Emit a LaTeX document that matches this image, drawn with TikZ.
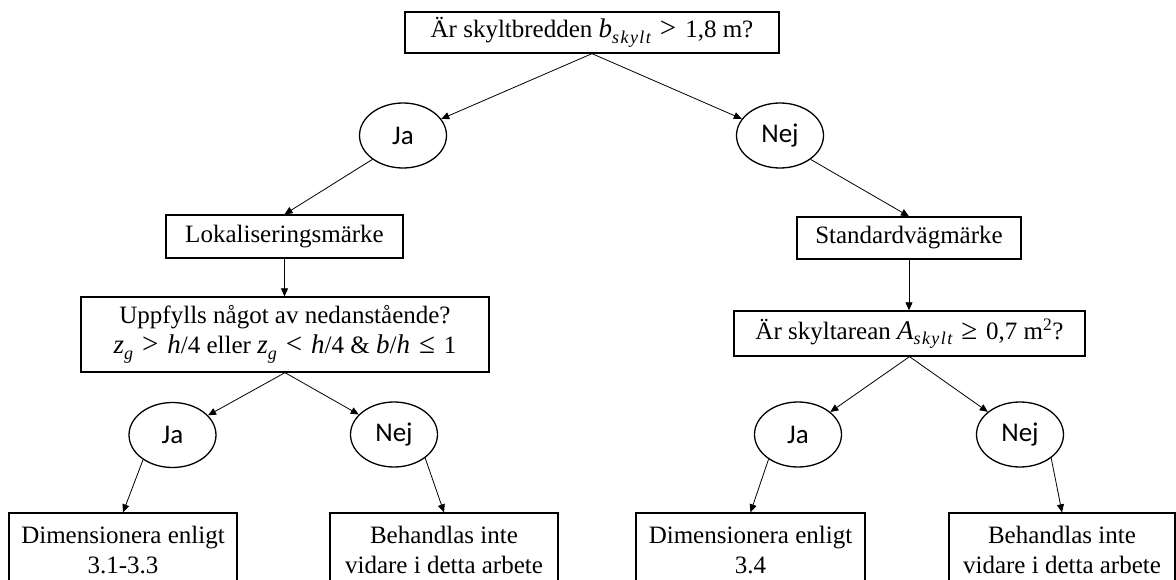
\documentclass[tikz,border=0pt]{standalone}
\usepackage{fontspec}
\setmainfont{Liberation Serif}
\newfontfamily\answerfont{Carlito}
\newfontfamily\idxfont[LetterSpace=8]{Liberation Serif}
\newfontfamily\varfont[LetterSpace=4]{Liberation Serif}
\usetikzlibrary{shapes.geometric,arrows.meta}

% italic variable, slightly larger than the running text
\newcommand\vv[1]{{\varfont\fontsize{27}{30}\selectfont\itshape #1}}
% italic variable with a lowered italic index
\newcommand\var[2]{\vv{#1}\raisebox{-5.5pt}{\idxfont\fontsize{18}{18}\selectfont\itshape #2}}
% relation sign, a little larger, with extra room on both sides
\newcommand\rel[1]{\hspace{9pt}{\fontsize{29}{30}\selectfont #1}\hspace{9pt}}

\begin{document}
\begin{tikzpicture}[x=1pt,y=-1pt,
  box/.style={draw,line width=1.3pt,rectangle,inner sep=0pt,align=center,
    font=\fontsize{25}{30}\selectfont},
  answer/.style={draw,line width=1.3pt,ellipse,minimum width=87pt,
    minimum height=65pt,inner sep=0pt,font=\answerfont\fontsize{27}{30}\selectfont},
  link/.style={line width=0.8pt,-{Triangle[length=8pt,width=7pt]}}]
\fill[white] (0,0) rectangle (1176,580);
\clip (0,0) rectangle (1176,580);

% question at the top
\node[box,minimum width=374pt,minimum height=41pt] (top) at (592,32.5)
  {Är skyltbredden \var{b}{skylt}\rel{>}1,8 m?};

% first answers
\node[answer] (ja1) at (403,135.5) {Ja};
\node[answer] (nej1) at (780,135.5) {Nej};

% sign types
\node[box,minimum width=237pt,minimum height=43pt] (lok) at (284.5,236.5) {Lokaliseringsmärke};
\node[box,minimum width=224pt,minimum height=42pt] (std) at (909,238) {Standardvägmärke};

% second questions
\node[box,minimum width=408pt,minimum height=75pt] (upp) at (285,334.5)
  {Uppfylls något av nedanstående?\\
   \var{z}{g}\rel{>}\vv{h}/4 eller
   \var{z}{g}\rel{<}\vv{h}/4 \& \vv{b}/\vv{h}\rel{≤}1};
\node[box,minimum width=351pt,minimum height=45pt] (ar) at (909.5,333.5)
  {Är skyltarean \var{A}{skylt}\rel{≥}0,7 m\textsuperscript{2}?};

% second answers
\node[answer] (ja2) at (172.5,435) {Ja};
\node[answer] (nej2) at (394,434.5) {Nej};
\node[answer] (ja3) at (798,434.5) {Ja};
\node[answer] (nej3) at (1020,434.5) {Nej};

% outcomes (their lower edges fall below the frame)
\node[box,minimum width=228pt,minimum height=74pt] (b1) at (123,550)
  {Dimensionera enligt\\3.1-3.3};
\node[box,minimum width=228pt,minimum height=74pt] (b2) at (444,550)
  {Behandlas inte\\vidare i detta arbete};
\node[box,minimum width=229pt,minimum height=74pt] (b3) at (750.5,550)
  {Dimensionera enligt\\3.4};
\node[box,minimum width=226pt,minimum height=74pt] (b4) at (1062,550)
  {Behandlas inte\\vidare i detta arbete};

% connectors
\draw[link] (top.south) -- (ja1);
\draw[link] (top.south) -- (nej1);
\draw[link] (ja1.218) -- (lok.north);
\draw[link] (nej1.322) -- (std.north);
\draw[link] (lok.south) -- (lok.south |- upp.north);
\draw[link] (std.south) -- (std.south |- ar.north);
\draw[link] (upp.south) -- (ja2);
\draw[link] (upp.south) -- (nej2);
\draw[link] (ar.south) -- (ja3);
\draw[link] (ar.south) -- (nej3);
\draw[link] (ja2.220) -- (b1.north);
\draw[link] (nej2.323) -- (b2.north);
\draw[link] (ja3.220) -- (b3.north);
\draw[link] (nej3.323) -- (b4.north);
\end{tikzpicture}
\end{document}
